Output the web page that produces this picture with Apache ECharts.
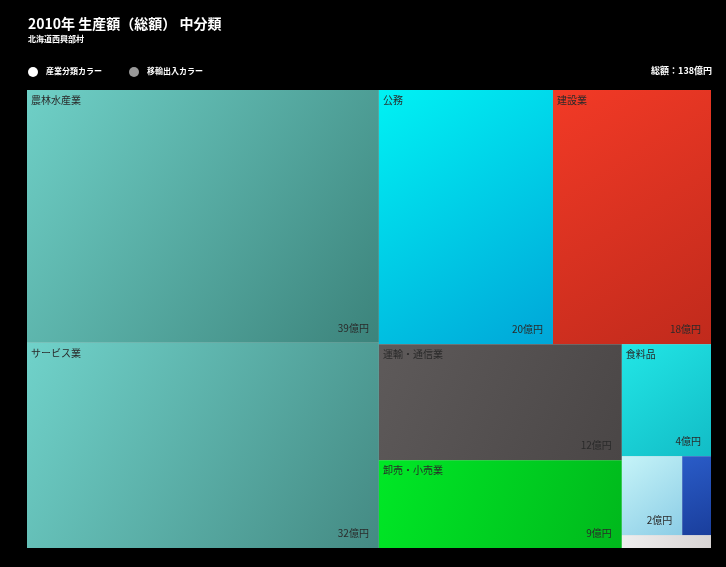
<!DOCTYPE html>
<html><head><meta charset="utf-8">
<script src="https://cdn.jsdelivr.net/npm/echarts@6/dist/echarts.min.js"></script>
<style>html,body{margin:0;padding:0;background:#000;}#c{width:726px;height:567px;}</style>
</head><body><div id="c"></div>
<script>
const categories = ['農林水産業','サービス業','公務','建設業','運輸・通信業','卸売・小売業','食料品','その他製造業','電気・ガス・水道','鉱業'];
const values = [39.2, 31.8, 19.5, 17.7, 12.4, 9.4, 4.4, 2.1, 1.0, 0.5];
const showName = [true,true,true,true,true,true,true,false,false,false];
const showValue = [true,true,true,true,true,true,true,true,false,false];
const colorStart = ['#6fd0c7','#70d2ca','#00f2f4','#f23a26','#5e5a5a','#00e826','#22e6e6','#c6f4f8','#2a5cc8','#eeeeee'];
const colorEnd   = ['#3c837b','#448a83','#00a6d8','#c02a1c','#4a4646','#00b81c','#12bcc6','#8ccde6','#1a3e9c','#d8d4d4'];
const totalLabel = '総額：138億円';

function grad(a,b){return {type:'linear',x:0,y:0,x2:1,y2:1,colorStops:[{offset:0,color:a},{offset:1,color:b}]};}

const nameData = categories.map((n,i)=>({
  name:n, value:values[i],
  itemStyle:{color:grad(colorStart[i],colorEnd[i])},
  label:{show:showName[i]}
}));
const valueData = categories.map((n,i)=>({
  name:n, value:values[i],
  itemStyle:{color:'rgba(0,0,0,0)'},
  label:{show:showValue[i]}
}));

const common = {
  type:'treemap', left:27, top:90, right:15, bottom:19,
  roam:false, nodeClick:false, breadcrumb:{show:false},
  animation:false, sort:'desc'
};

const chart = echarts.init(document.getElementById('c'));
chart.setOption({
  backgroundColor:'#000',
  title:{text:'2010年 生産額（総額） 中分類', subtext:'北海道西興部村', left:23, top:12,
    textStyle:{color:'#fff',fontSize:14,fontWeight:'bold',fontFamily:'Noto Sans CJK JP'},
    subtextStyle:{color:'#fff',fontSize:8,fontWeight:'bold',fontFamily:'Noto Sans CJK JP'}, itemGap:4},
  graphic:[
    {type:'circle',shape:{cx:33,cy:72,r:5},style:{fill:'#fff'}},
    {type:'text',left:46,top:67,style:{text:'産業分類カラー',fill:'#fff',font:'bold 8px "Noto Sans CJK JP"'}},
    {type:'circle',shape:{cx:134,cy:72,r:5},style:{fill:'#999'}},
    {type:'text',left:147,top:67,style:{text:'移輸出入カラー',fill:'#fff',font:'bold 8px "Noto Sans CJK JP"'}},
    {type:'text',right:14,top:66,style:{text:totalLabel,fill:'#fff',font:'bold 9px "Noto Sans CJK JP"'}}
  ],
  series:[
    Object.assign({}, common, {
      name:'name',
      itemStyle:{borderWidth:0,gapWidth:0,borderColor:'#000'},
      label:{position:'insideTopLeft',distance:0,padding:[5,0,0,4],color:'#2a2a2a',fontSize:10,fontFamily:'Noto Sans CJK JP',formatter:p=>p.name},
      data:nameData
    }),
    Object.assign({}, common, {
      name:'value', silent:true,
      itemStyle:{borderWidth:0,gapWidth:0,color:'rgba(0,0,0,0)'},
      label:{position:'insideBottomRight',distance:5,color:'#2a2a2a',fontSize:10,fontFamily:'Noto Sans CJK JP',formatter:p=>Math.round(p.value)+'億円'},
      data:valueData
    })
  ]
});
</script></body></html>
